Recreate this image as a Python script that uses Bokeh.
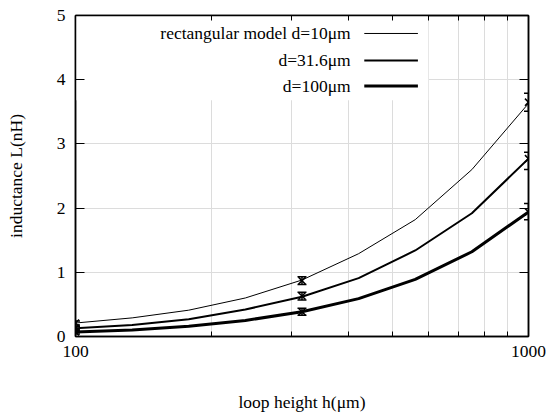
from bokeh.plotting import figure
from bokeh.models import (FixedTicker, PrintfTickFormatter, LinearAxis, LogAxis,
                          Whisker, TeeHead, ColumnDataSource, BoxAnnotation, Label, Range1d)
from bokeh.embed import file_html
from bokeh.resources import INLINE

# ---- data ----
h = [100, 133.4, 177.8, 237.1, 316.2, 421.7, 562.3, 749.9, 1000]
L_d10 = [0.21, 0.29, 0.41, 0.60, 0.88, 1.29, 1.82, 2.60, 3.63]
L_d31 = [0.13, 0.18, 0.27, 0.42, 0.62, 0.91, 1.34, 1.92, 2.77]
L_d100 = [0.07, 0.10, 0.16, 0.25, 0.385, 0.59, 0.89, 1.32, 1.94]

pt_h = [100, 316.2, 1000]
pt_d10 = [0.21, 0.87, 3.65]
lo_d10 = [0.18, 0.81, 3.51]
hi_d10 = [0.24, 0.93, 3.79]
pt_d31 = [0.13, 0.63, 2.77]
lo_d31 = [0.10, 0.57, 2.60]
hi_d31 = [0.16, 0.69, 2.87]
pt_d100 = [0.07, 0.385, 1.94]
lo_d100 = [0.04, 0.33, 1.82]
hi_d100 = [0.10, 0.44, 2.07]

labels = ["rectangular model d=10μm", "d=31.6μm", "d=100μm"]
widths = [1, 2, 3]
x_major = [100, 1000]
x_minor = [200, 300, 400, 500, 600, 700, 800, 900]
y_major = [0, 1, 2, 3, 4, 5]

FONT = "Liberation Serif"
FS = "17.5px"

p = figure(width=546, height=414, x_axis_type="log",
           x_range=Range1d(100, 1000), y_range=Range1d(0, 5),
           output_backend="svg", toolbar_location=None,
           min_border_left=75, min_border_right=18, min_border_top=15, min_border_bottom=78)
p.background_fill_color = "white"
p.border_fill_color = "white"
p.outline_line_color = "black"
p.outline_line_width = 1.5

# grid
p.xgrid.ticker = FixedTicker(ticks=x_minor)
p.ygrid.ticker = FixedTicker(ticks=[1, 2, 3, 4])
for g in (p.xgrid, p.ygrid):
    g.grid_line_color = "#dcdcdc"
    g.grid_line_width = 1

# legend background box (covers grid)
p.add_layout(BoxAnnotation(left=100, right=601, bottom=3.68, top=5,
                           fill_color="white", fill_alpha=1.0, line_alpha=0,
                           level="underlay"))

# axes styling
def style(ax):
    ax.axis_line_color = "black"
    ax.axis_line_width = 1.5
    ax.major_tick_in = 9
    ax.major_tick_out = 0
    ax.minor_tick_in = 5
    ax.minor_tick_out = 0
    ax.major_tick_line_color = "black"
    ax.minor_tick_line_color = "black"
    ax.major_label_text_font = FONT
    ax.major_label_text_font_size = FS
    ax.major_label_text_color = "black"
    ax.axis_label_text_font = FONT
    ax.axis_label_text_font_size = FS
    ax.axis_label_text_font_style = "normal"
    ax.axis_label_text_color = "black"

xa = p.xaxis[0]
xa.ticker = FixedTicker(ticks=x_major, minor_ticks=x_minor)
xa.formatter = PrintfTickFormatter(format="%d")
xa.axis_label = "loop height h(μm)"
style(xa)
xa.major_label_standoff = 9
xa.axis_label_standoff = 32

ya = p.yaxis[0]
ya.ticker = FixedTicker(ticks=y_major)
ya.axis_label = "inductance L(nH)"
style(ya)
ya.major_label_standoff = 10
ya.axis_label_standoff = 28

top = LogAxis(ticker=FixedTicker(ticks=x_major, minor_ticks=x_minor))
style(top)
top.major_label_text_font_size = "1px"
top.major_label_text_alpha = 0
top.major_label_standoff = 0
p.add_layout(top, "above")

right = LinearAxis(ticker=FixedTicker(ticks=y_major))
style(right)
right.major_label_text_font_size = "1px"
right.major_label_text_alpha = 0
right.major_label_standoff = 0
p.add_layout(right, "right")

# curves
p.line(h, L_d10, line_color="black", line_width=widths[0])
p.line(h, L_d31, line_color="black", line_width=widths[1])
p.line(h, L_d100, line_color="black", line_width=widths[2])

# points with error bars
for yv, lo, hi in ((pt_d10, lo_d10, hi_d10), (pt_d31, lo_d31, hi_d31), (pt_d100, lo_d100, hi_d100)):
    src = ColumnDataSource(dict(x=pt_h, y=yv, lower=lo, upper=hi))
    w = Whisker(source=src, base="x", lower="lower", upper="upper", dimension="height",
                line_color="black", line_width=1.5,
                upper_head=TeeHead(size=9, line_color="black", line_width=1.5),
                lower_head=TeeHead(size=9, line_color="black", line_width=1.5))
    p.add_layout(w)
    p.scatter("x", "y", source=src, marker="x", size=10, line_color="black", line_width=1.5)

# legend (gnuplot style: right-aligned text, sample to the right)
leg_y = [4.72, 4.30, 3.90]
for lab, yy, lw in zip(labels, leg_y, widths):
    p.add_layout(Label(x=405, y=yy, text=lab, text_align="right", text_baseline="middle",
                       text_font=FONT, text_font_size=FS, text_color="black"))
    p.segment(x0=[434], x1=[570], y0=[yy], y1=[yy], line_color="black", line_width=lw)

open("out.html", "w").write(file_html(p, INLINE))
